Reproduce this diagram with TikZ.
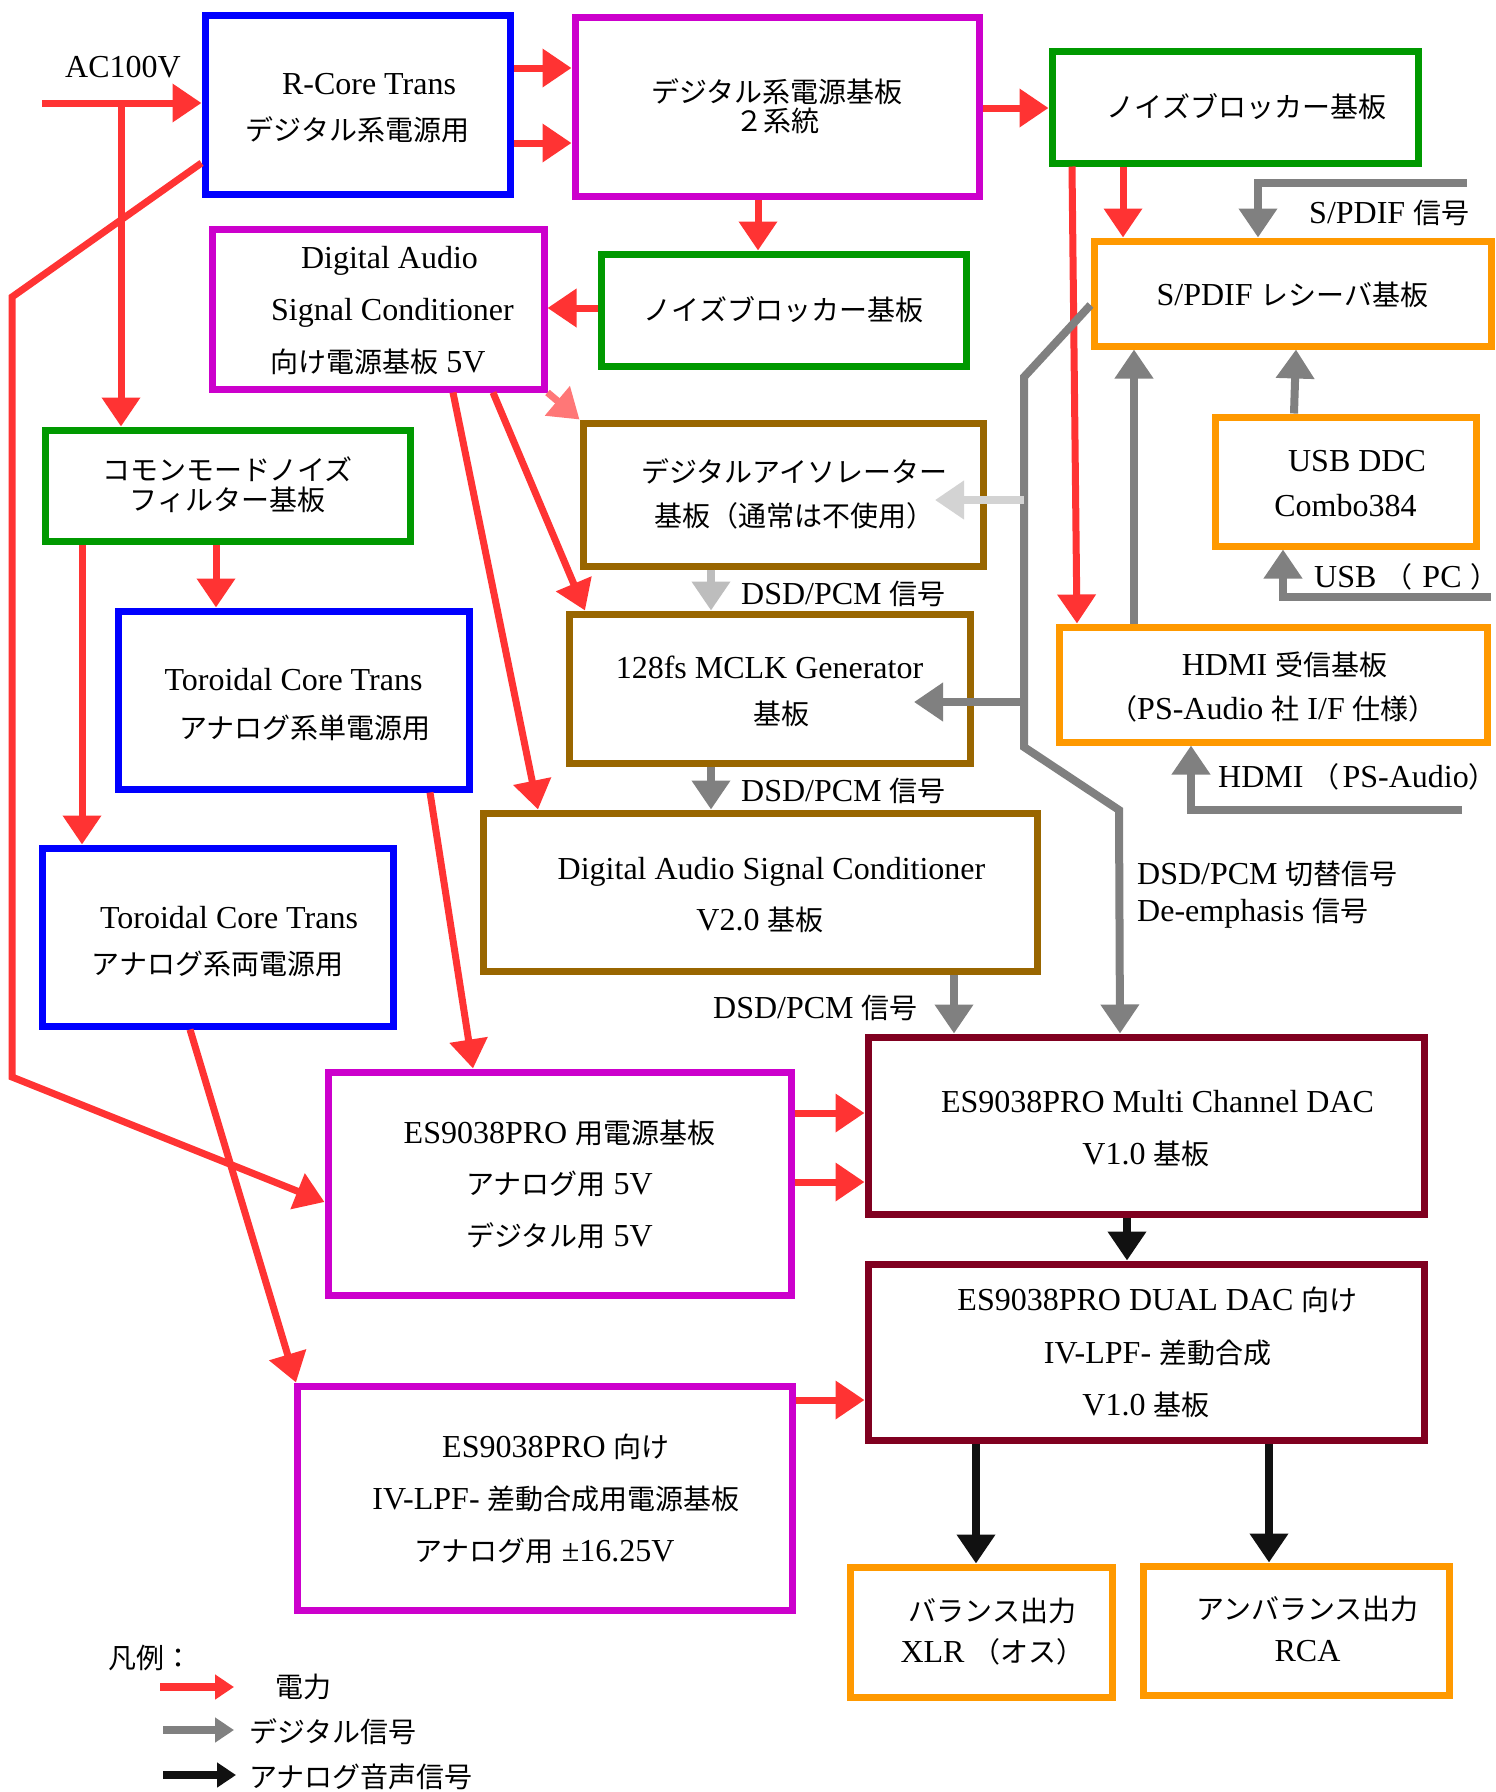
\documentclass[tikz,border=0pt]{standalone}
\usepackage{fontspec}
\setmainfont{Liberation Serif}
\newfontfamily\jp{Noto Sans CJK JP}[Scale=0.875]
\usetikzlibrary{arrows.meta}
\definecolor{cblue}{HTML}{0000FF}
\definecolor{cmag}{HTML}{CC00CC}
\definecolor{cgreen}{HTML}{009900}
\definecolor{corange}{HTML}{FF9900}
\definecolor{cbrown}{HTML}{996600}
\definecolor{cdred}{HTML}{800020}
\definecolor{cred}{HTML}{FF3333}
\definecolor{cpink}{HTML}{FF7777}
\definecolor{cgray}{HTML}{808080}
\definecolor{clgray}{HTML}{D3D3D3}
\definecolor{cmgray}{HTML}{BDBDBD}
\definecolor{cblack}{HTML}{111111}
\newcommand\J[1]{{\jp #1}}
\newcommand\mystrut{\rule[-6pt]{0pt}{32pt}}
\newcommand\tstrut[1]{\rule[-6pt]{0pt}{#1}}
\newcommand\lsh{\hspace*{23pt}}
\begin{document}
\begin{tikzpicture}[x=1pt,y=-1pt,
  bx/.style={draw=#1, line width=7pt, inner sep=0pt, align=center, text=black},
  ft/.style={font={\fontsize{32}{#1}\selectfont\lineskiplimit=-30pt}},
  lbl/.style={inner sep=0pt, font={\fontsize{32}{37}\selectfont\lineskiplimit=-30pt}, align=left, text=black},
  atip/.style={-{Triangle[length=29pt,width=37pt]}},
  pw/.style={draw=cred, line width=7pt, atip},
  pk/.style={draw=cpink, line width=7pt, atip},
  dg/.style={draw=cgray, line width=8pt, atip},
  dgl/.style={draw=clgray, line width=8pt, atip},
  dgm/.style={draw=cmgray, line width=8pt, atip},
  an/.style={draw=cblack, line width=8pt, atip},
  lg/.style={line width=8pt, -{Triangle[length=19pt,width=24pt]}}
]
\fill[white] (0,0) rectangle (1496,1792);
\useasboundingbox (0,0) rectangle (1496,1792);

% boxes
\node[bx=cblue, minimum width=305pt, minimum height=179pt, ft=46] (b1) at (357.5,104.5) {\tstrut{37pt}\lsh R-Core Trans\\\mystrut\J{デジタル系電源用}};
\node[bx=cmag, minimum width=404pt, minimum height=179pt, ft=29] (b2) at (777,106.5) {\mystrut\J{デジタル系電源基板}\\\mystrut\J{２系統}};
\node[bx=cgreen, minimum width=366pt, minimum height=112pt, ft=40] (b3) at (1235,107) {\mystrut\lsh\J{ノイズブロッカー基板}};
\node[bx=cmag, minimum width=332pt, minimum height=160pt, ft=52] (b4) at (378,309) {\tstrut{34pt}\lsh Digital Audio\\\mystrut\lsh\hspace*{6pt}Signal Conditioner\\\mystrut\J{向け電源基板} 5V};
\node[bx=cgreen, minimum width=365pt, minimum height=112pt, ft=40] (b5) at (783.5,310) {\mystrut\J{ノイズブロッカー基板}};
\node[bx=corange, minimum width=397pt, minimum height=105pt, ft=40] (b6) at (1292.5,293.5) {\tstrut{36pt}S/PDIF \J{レシーバ基板}};
\node[bx=cbrown, minimum width=400pt, minimum height=143pt, ft=44] (b7) at (783,494.5) {\mystrut\lsh\J{デジタルアイソレーター}\\\mystrut\lsh\J{基板（通常は不使用）}};
\node[bx=cbrown, minimum width=401pt, minimum height=149pt, ft=46] (b8) at (769.5,688.5) {\tstrut{38pt}128fs MCLK Generator\\\mystrut\lsh\J{基板}};
\node[bx=cbrown, minimum width=554pt, minimum height=158pt, ft=51] (b9) at (760,892) {\tstrut{37pt}\lsh Digital Audio Signal Conditioner\\\mystrut V2.0 \J{基板}};
\node[bx=corange, minimum width=261pt, minimum height=129pt, ft=45] (b10) at (1345.5,481.5) {\tstrut{37pt}\lsh USB DDC\\\mystrut Combo384};
\node[bx=corange, minimum width=428pt, minimum height=115pt, ft=44] (b11) at (1273,684.5) {\tstrut{37pt}\lsh HDMI \J{受信基板}\\\mystrut\J{（}PS-Audio \J{社} I/F \J{仕様）}};
\node[bx=cgreen, minimum width=365pt, minimum height=111pt, ft=30] (b12) at (227.5,485.5) {\mystrut\J{コモンモードノイズ}\\\mystrut\J{フィルター基板}};
\node[bx=cblue, minimum width=351pt, minimum height=178pt, ft=48] (b13) at (293.5,700) {\tstrut{40pt}Toroidal Core Trans\\\mystrut\lsh\J{アナログ系単電源用}};
\node[bx=cblue, minimum width=351pt, minimum height=178pt, ft=46] (b14) at (217.5,937) {\tstrut{40pt}\lsh Toroidal Core Trans\\\mystrut\J{アナログ系両電源用}};
\node[bx=cmag, minimum width=463pt, minimum height=223pt, ft=51.5] (b15) at (559.5,1183.5) {\tstrut{34pt}ES9038PRO \J{用電源基板}\\\mystrut\J{アナログ用} 5V\\\mystrut\J{デジタル用} 5V};
\node[bx=cdred, minimum width=556pt, minimum height=177pt, ft=52] (b16) at (1146,1125.5) {\tstrut{37pt}\lsh ES9038PRO Multi Channel DAC\\\mystrut V1.0 \J{基板}};
\node[bx=cdred, minimum width=556pt, minimum height=176pt, ft=52.5] (b17) at (1146,1352) {\tstrut{34pt}\lsh ES9038PRO DUAL DAC \J{向け}\\\mystrut\lsh IV-LPF- \J{差動合成}\\\mystrut V1.0 \J{基板}};
\node[bx=cmag, minimum width=495pt, minimum height=224pt, ft=52] (b18) at (544.5,1498) {\tstrut{34pt}\lsh ES9038PRO \J{向け}\\\mystrut\lsh IV-LPF- \J{差動合成用電源基板}\\\mystrut\J{アナログ用} ±16.25V};
\node[bx=corange, minimum width=262pt, minimum height=130pt, ft=41] (b19) at (981,1632) {\mystrut\lsh\J{バランス出力}\\\mystrut\lsh XLR \J{（オス）}};
\node[bx=corange, minimum width=306pt, minimum height=129pt, ft=42] (b20) at (1296,1630.5) {\mystrut\lsh\J{アンバランス出力}\\\mystrut\lsh RCA};

% labels
\node[lbl, anchor=west] (lac) at (65,67) {AC100V};
\node[lbl, anchor=west] (lsp) at (1309,213) {S/PDIF \J{信号}};
\node[lbl, anchor=west] (ld1) at (741,594) {DSD/PCM \J{信号}};
\node[lbl, anchor=west] (ld2) at (741,791) {DSD/PCM \J{信号}};
\node[lbl, anchor=west] (ld3) at (713,1008) {DSD/PCM \J{信号}};
\node[lbl, anchor=west] (lsw) at (1137,894.5) {DSD/PCM \J{切替信号}\\De-emphasis \J{信号}};
\node[lbl, anchor=west] (lusb) at (1314,577) {USB \J{（}\hspace{10pt}PC\hspace{9pt}\J{）}\hspace{-15pt}};
\node[lbl, anchor=west] (lhd) at (1218,777) {HDMI \J{（}\hspace{3pt}PS-Audio\J{）}\hspace{-15pt}};

% coordinates
\coordinate (ac) at (42,103);
\coordinate (acj) at (121,103);
\coordinate (r3a) at (12,297);
\coordinate (r3b) at (12,1077);
\coordinate (sp) at (1467,183);
\coordinate (g2a) at (1024,377);
\coordinate (g2b) at (1024,747);
\coordinate (g2c) at (1119,810);
\coordinate (g2d) at (1024,500);
\coordinate (g2e) at (1024,702);
\coordinate (usb) at (1491,597);
\coordinate (hd) at (1462,810);

% power connectors
\draw[pw] (ac) -- (b1.west |- ac);
\draw[pw] (acj) -- (b12.north -| acj);
\draw[pw] (b1.west |- 0,163) -- (r3a) -- (r3b) -- (b15.west |- 0,1202);
\draw[pw] (b1.east |- 0,68) -- (b2.west |- 0,68);
\draw[pw] (b1.east |- 0,143) -- (b2.west |- 0,143);
\draw[pw] (b2.east |- 0,108) -- (b3.west |- 0,108);
\draw[pw] (b2.south -| 758,0) -- (b5.north -| 758,0);
\draw[pw] (b5.west |- 0,308) -- (b4.east |- 0,308);
\draw[pw] (b3.south -| 1123,0) -- (b6.north -| 1123,0);
\draw[pw] (b3.south -| 1072,0) -- (b11.north -| 1077,0);
\draw[pw] (b4.south -| 453,0) -- (b9.north -| 538,0);
\draw[pw] (b4.south -| 493,0) -- (b8.north -| 585,0);
\draw[pk] (b4.south east) -- (b7.north west);
\draw[pw] (b12.south -| 216,0) -- (b13.north -| 216,0);
\draw[pw] (b12.south -| 82,0) -- (b14.north -| 82,0);
\draw[pw] (b13.south -| 430,0) -- (b15.north -| 473,0);
\draw[pw] (b14.south -| 190,0) -- (b18.north -| 296,0);
\draw[pw] (b15.east |- 0,1113) -- (b16.west |- 0,1113);
\draw[pw] (b15.east |- 0,1182) -- (b16.west |- 0,1182);
\draw[pw] (b18.east |- 0,1400) -- (b17.west |- 0,1400);

% digital connectors
\draw[dg] (sp) -- (sp -| 1258,0) -- (b6.north -| 1258,0);
\draw[dg] (b6.west |- 0,305) -- (g2a) -- (g2b) -- (g2c) -- (b16.north -| 1120,0);
\draw[dgl] (g2d) -- ++(-89,0);
\draw[dg] (g2e) -- ++(-110,0);
\draw[dg] (b11.north -| 1134,0) -- (b6.south -| 1134,0);
\draw[dg] (b10.north -| 1294,0) -- (b6.south -| 1296,0);
\draw[dg] (usb) -- (usb -| 1283,0) -- (b10.south -| 1283,0);
\draw[dg] (hd) -- (hd -| 1191,0) -- (b11.south -| 1191,0);
\draw[dgm] (b7.south -| 711,0) -- (b8.north -| 711,0);
\draw[dg] (b8.south -| 711,0) -- (b9.north -| 711,0);
\draw[dg] (b9.south -| 954,0) -- (b16.north -| 954,0);

% analog connectors
\draw[an] (b16.south -| 1127,0) -- (b17.north -| 1127,0);
\draw[an] (b17.south -| 976,0) -- (b19.north -| 976,0);
\draw[an] (b17.south -| 1269,0) -- (b20.north -| 1269,0);

% legend
\node[lbl, anchor=west] (lgt) at (108,1658) {\J{凡例：}};
\coordinate (lr1) at (160,1687); \coordinate (lr2) at (234,1687);
\coordinate (lg1) at (163,1730); \coordinate (lg2) at (234,1730);
\coordinate (lb1) at (163,1775); \coordinate (lb2) at (236,1775);
\draw[lg, draw=cred] (lr1) -- (lr2);
\draw[lg, draw=cgray] (lg1) -- (lg2);
\draw[lg, draw=cblack] (lb1) -- (lb2);
\node[lbl, anchor=west] (lgr) at (275,1687) {\J{電力}};
\node[lbl, anchor=west] (lgg) at (249,1732) {\J{デジタル信号}};
\node[lbl, anchor=west] (lgb) at (249,1777) {\J{アナログ音声信号}};
\end{tikzpicture}
\end{document}
